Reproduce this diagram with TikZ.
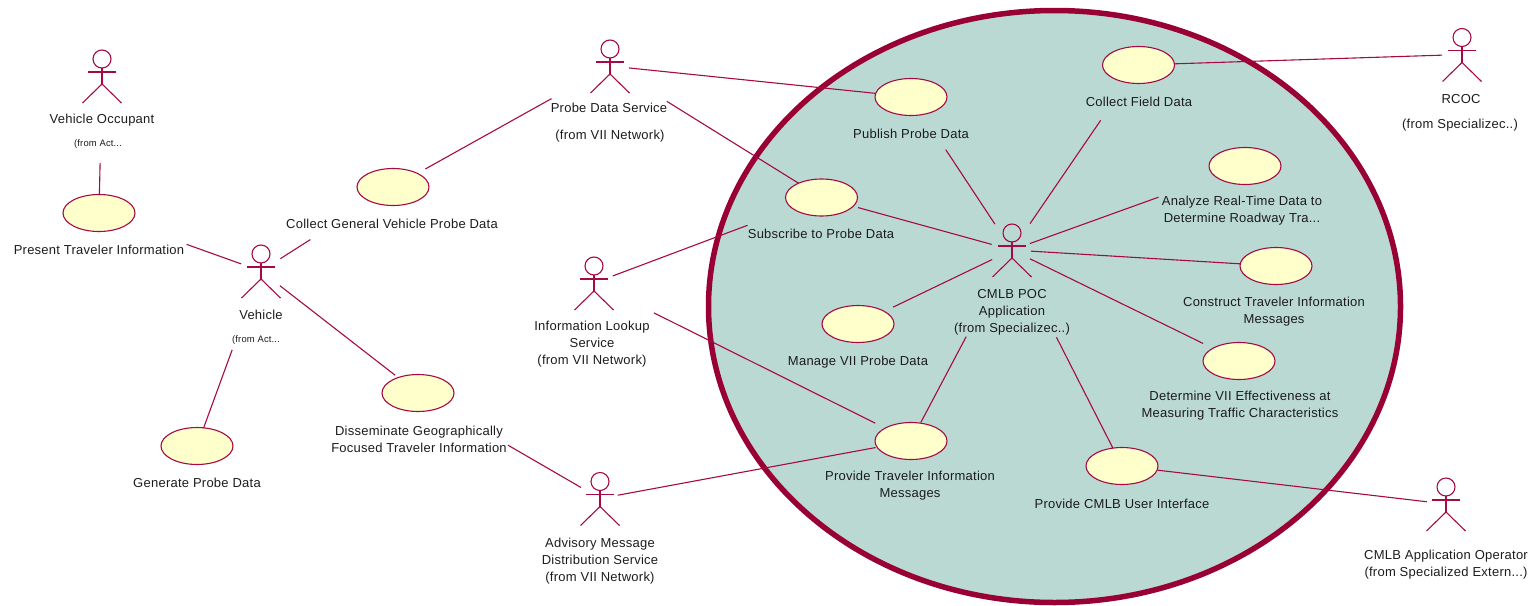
\documentclass[tikz,border=0pt]{standalone}
\usepackage{fontspec}
\setmainfont[LetterSpace=1.9]{Liberation Sans}
\usetikzlibrary{shapes.geometric}
\definecolor{umlline}{HTML}{A50A45}
\definecolor{umlrim}{HTML}{990033}
\definecolor{umlsea}{HTML}{BBD9D3}
\definecolor{umlcase}{HTML}{FFFFCC}
\definecolor{umltext}{HTML}{1C1C1C}
\tikzset{
  x=1pt,y=-1pt,
  usecase/.style={ellipse,draw=umlline,fill=umlcase,line width=1.1pt,minimum width=72pt,minimum height=37pt,inner sep=0pt},
  system/.style={ellipse,draw=umlrim,fill=umlsea,line width=5.5pt,minimum width=692pt,minimum height=592pt,inner sep=0pt,outer sep=0pt},
  actorbox/.style={rectangle,minimum width=40pt,minimum height=54pt,inner sep=0pt},
  caption/.style={text=umltext,align=center,inner sep=0pt,font=\fontsize{13}{17}\selectfont},
  tiny caption/.style={text=umltext,inner sep=0pt,font=\fontsize{9.4}{11}\selectfont},
  link/.style 2 args={draw=umlline,line width=1.1pt,shorten <=#1pt,shorten >=#2pt},
  actor/.pic={
    \draw[umlline,line width=1.1pt] (0,-17) circle (9pt);
    \draw[umlline,line width=1.1pt] (0,-8)--(0,8);
    \draw[umlline,line width=1.1pt] (-14,-4)--(14,-4);
    \draw[umlline,line width=1.1pt] (-19.5,27)--(0,8)--(19.5,27);
  }
}

\begin{document}
\begin{tikzpicture}
\useasboundingbox (0,0) rectangle (1533,605);

\node[system] (poc) at (1054.5,306.5) {};

\node[actorbox] (occupant) at (102,76) {};
\node[actorbox] (vehicle) at (261,271) {};
\node[actorbox] (probeservice) at (610,66) {};
\node[actorbox] (lookup) at (594,283) {};
\node[actorbox] (advisory) at (600,498.5) {};
\node[actorbox] (cmlb) at (1012,250) {};
\node[actorbox] (rcoc) at (1462,54.5) {};
\node[actorbox] (operator) at (1446,504) {};
\foreach \who in {occupant,vehicle,probeservice,lookup,advisory,cmlb,rcoc,operator}
  \pic at (\who) {actor};

\node[usecase] (present) at (99,213) {};
\node[usecase] (collectgen) at (393,187) {};
\node[usecase] (disseminate) at (418,393) {};
\node[usecase] (generate) at (197,446) {};
\node[usecase] (publish) at (911,97) {};
\node[usecase] (subscribe) at (821.5,197.5) {};
\node[usecase] (manage) at (858,324) {};
\node[usecase] (provide) at (911,441) {};
\node[usecase] (userif) at (1122,466) {};
\node[usecase] (collectfield) at (1138.5,65) {};
\node[usecase] (analyze) at (1245,166) {};
\node[usecase] (construct) at (1276,266) {};
\node[usecase] (determine) at (1239,361) {};

\draw[link={87}{18}] (occupant.center)--(present.center);
\draw[link={93}{21}] (present.center)--(vehicle.center);
\draw[link={23}{98}] (vehicle.center)--(collectgen.center);
\draw[link={67}{37}] (probeservice.center)--(collectgen.center);
\draw[link={24}{29}] (vehicle.center)--(disseminate.center);
\draw[link={84}{19}] (vehicle.center)--(generate.center);
\draw[link={19}{36}] (probeservice.center)--(publish.center);
\draw[link={67}{27}] (probeservice.center)--(subscribe.center);
\draw[link={20}{79}] (lookup.center)--(subscribe.center);
\draw[link={67}{40}] (lookup.center)--(provide.center);
\draw[link={22}{104}] (advisory.center)--(disseminate.center);
\draw[link={18}{36}] (advisory.center)--(provide.center);
\draw[link={38}{21}] (subscribe.center)--(cmlb.center);
\draw[link={63}{31}] (publish.center)--(cmlb.center);
\draw[link={67}{32}] (collectfield.center)--(cmlb.center);
\draw[link={19}{92}] (cmlb.center)--(analyze.center);
\draw[link={19}{36}] (cmlb.center)--(construct.center);
\draw[link={20}{40}] (cmlb.center)--(determine.center);
\draw[link={39}{22}] (manage.center)--(cmlb.center);
\draw[link={21}{98}] (provide.center)--(cmlb.center);
\draw[link={98}{20}] (cmlb.center)--(userif.center);
\draw[link={36}{19}] (userif.center)--(operator.center);
\draw[link={36}{20}] (collectfield.center)--(rcoc.center);

\node[caption] (occupantname) at (102,120.5) {Vehicle Occupant};
\node[tiny caption] (occupantfrom) at (98,144.5) {(from Act...};
\node[caption] (presentname) at (99,250) {Present Traveler Information};
\node[caption] (vehiclename) at (261,315) {Vehicle};
\node[tiny caption] (vehiclefrom) at (256,340) {(from Act...};
\node[caption] (collectgenname) at (392,223.5) {Collect General Vehicle Probe Data};
\node[caption] (disseminatename) at (419,439) {Disseminate Geographically\\Focused Traveler Information};
\node[caption] (generatename) at (197,483) {Generate Probe Data};
\node[caption] (probename) at (609,108) {Probe Data Service};
\node[caption] (probefrom) at (610,136) {(from VII Network)};
\node[caption] (lookupname) at (592,344) {Information Lookup\\Service\\(from VII Network)};
\node[caption] (subscribename) at (821,234) {Subscribe to Probe Data};
\node[caption] (publishname) at (911,134) {Publish Probe Data};
\node[caption] (managename) at (858,362) {Manage VII Probe Data};
\node[caption] (providename) at (910,486) {Provide Traveler Information\\Messages};
\node[caption] (advisoryname) at (600,561) {Advisory Message\\Distribution Service\\(from VII Network)};
\node[caption] (cmlbname) at (1012,312) {CMLB POC\\Application\\(from Specializec..)};
\node[caption] (collectfieldname) at (1139,102) {Collect Field Data};
\node[caption] (rcocname) at (1461,99.5) {RCOC};
\node[caption] (rcocfrom) at (1460,125.5) {(from Specializec..)};
\node[caption] (analyzename) at (1242,211) {Analyze Real-Time Data to\\Determine Roadway Tra...};
\node[caption] (constructname) at (1274,312) {Construct Traveler Information\\Messages};
\node[caption] (determinename) at (1240,406) {Determine VII Effectiveness at\\Measuring Traffic Characteristics};
\node[caption] (userifname) at (1122,504) {Provide CMLB User Interface};
\node[caption] (operatorname) at (1446,565) {CMLB Application Operator\\(from Specialized Extern...)};
\end{tikzpicture}
\end{document}
